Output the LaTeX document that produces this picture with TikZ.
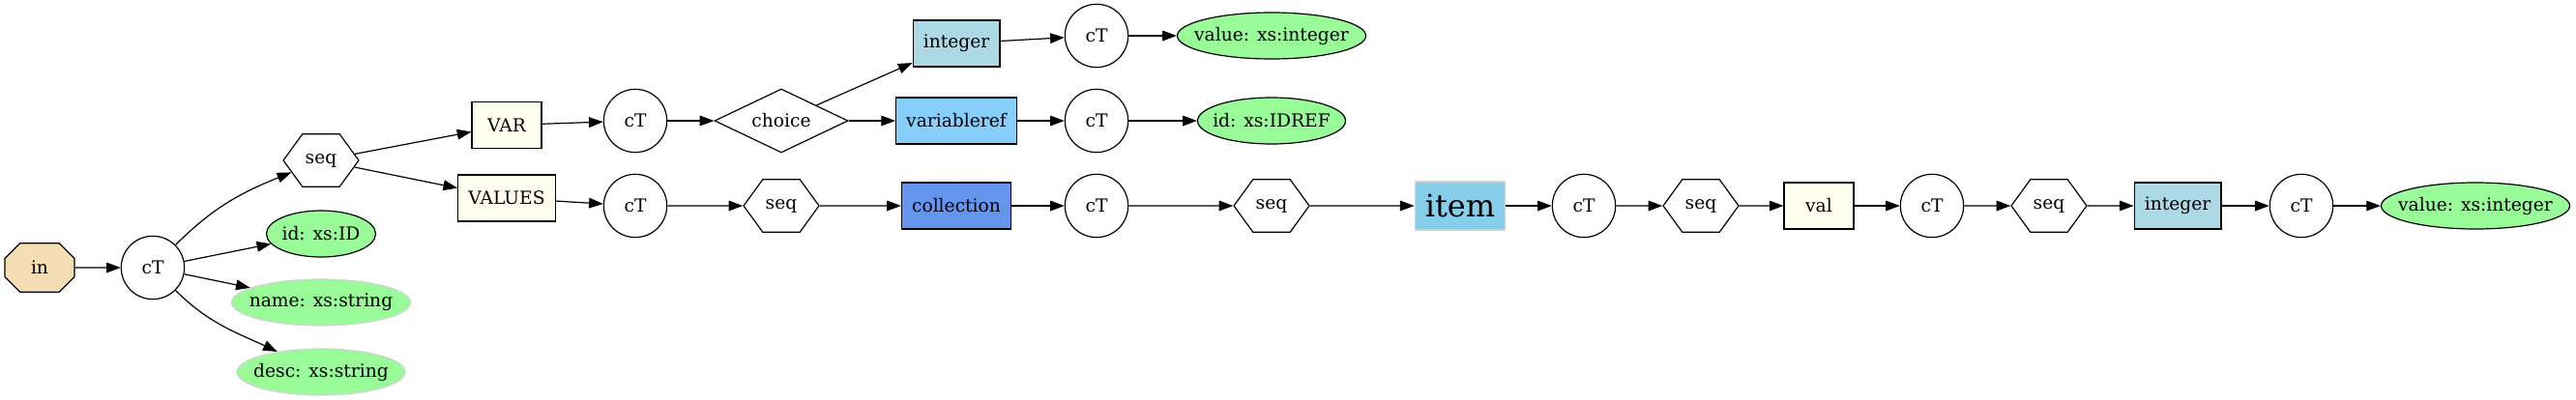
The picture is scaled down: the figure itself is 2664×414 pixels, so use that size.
\documentclass[tikz,border=0pt]{standalone}
\usepackage{fontspec}
\setmainfont{DejaVu Serif}
\usetikzlibrary{arrows.meta,shapes.geometric,shapes.misc,shapes.symbols}

\definecolor{wheat}{HTML}{F5DEB3}
\definecolor{ivory}{HTML}{FFFFF0}
\definecolor{lightblue}{HTML}{ADD8E6}
\definecolor{lightskyblue}{HTML}{87CEFA}
\definecolor{cornflower}{HTML}{6495ED}
\definecolor{skyblue}{HTML}{87CEEB}
\definecolor{palegreen}{HTML}{98FB98}
\definecolor{lightgrey}{HTML}{D3D3D3}

% label of zero width, so that an ellipse takes its size from its minimum width only
\newcommand{\flatlabel}[1]{\makebox[0pt]{#1}}

\tikzset{
	gv/.style={font=\fontsize{14}{17}\selectfont, line width=0.9pt, inner sep=0pt},
	innode/.style={gv, chamfered rectangle, chamfered rectangle xsep=16pt, chamfered rectangle ysep=11pt, draw, fill=wheat, minimum width=54pt, minimum height=38pt},
	ctnode/.style={gv, circle, draw, minimum size=49pt},
	seqnode/.style={gv, signal, signal to=east and west, signal pointer angle=108, draw, minimum width=58.5pt, minimum height=41pt},
	choicenode/.style={gv, diamond, aspect=2.1, draw, minimum width=103.5pt, minimum height=49.5pt},
	elnode/.style={gv, rectangle, draw, inner xsep=8pt, minimum width=54pt, minimum height=36pt},
	attrnode/.style={gv, ellipse, draw, fill=palegreen, minimum width=#1, minimum height=36pt},
	link/.style={-{Triangle[length=11pt,width=8pt]}, line width=0.9pt}
}

\begin{document}
\begin{tikzpicture}[x=0.75pt, y=-0.75pt]
			%%%%% START %%%%%
			\useasboundingbox (0, 0) rectangle (2664, 414);
			
			\node[innode] (in) at (41, 277) {in};
			\node[ctnode] (ct1) at (158, 277) {cT};
			
			\node[seqnode] (seq1) at (332, 166) {seq};
			\node[attrnode=84.75pt] (id) at (332, 242) {\flatlabel{id: xs:ID}};
			\node[attrnode=138.75pt, draw=lightgrey] (name) at (332, 313) {\flatlabel{name: xs:string}};
			\node[attrnode=130.5pt, draw=lightgrey] (desc) at (332, 385) {\flatlabel{desc: xs:string}};
			
			\node[elnode, fill=ivory] (var) at (524, 129.5) {VAR};
			\node[elnode, fill=ivory] (values) at (524, 205) {VALUES};
			\node[ctnode] (ct2) at (657, 125) {cT};
			\node[ctnode] (ct3) at (657, 213) {cT};
			\node[choicenode] (choice) at (808, 125) {choice};
			\node[seqnode] (seq2) at (808, 213) {seq};
			
			\node[elnode, fill=lightblue] (int1) at (989, 45) {integer};
			\node[elnode, fill=lightskyblue] (vref) at (989, 125) {variableref};
			\node[elnode, fill=cornflower] (coll) at (989, 213) {collection};
			\node[ctnode] (ct4) at (1134, 37) {cT};
			\node[ctnode] (ct5) at (1134, 125) {cT};
			\node[ctnode] (ct6) at (1134, 213) {cT};
			\node[attrnode=146.25pt] (val1) at (1315, 37) {\flatlabel{value: xs:integer}};
			\node[attrnode=114.75pt] (idref) at (1315, 125) {\flatlabel{id: xs:IDREF}};
			\node[seqnode] (seq3) at (1315, 213) {seq};
			
			\node[elnode, draw=lightgrey, fill=skyblue, font=\fontsize{24}{28}\selectfont, minimum height=37.5pt] (item) at (1510, 213) {item};
			\node[ctnode] (ct7) at (1638, 213) {cT};
			\node[seqnode] (seq4) at (1759, 213) {seq};
			\node[elnode, fill=ivory] (val) at (1881, 213) {val};
			\node[ctnode] (ct8) at (1998, 213) {cT};
			\node[seqnode] (seq5) at (2119, 213) {seq};
			\node[elnode, fill=lightblue] (int2) at (2252, 213) {integer};
			\node[ctnode] (ct9) at (2380, 213) {cT};
			\node[attrnode=146.25pt] (val2) at (2560, 213) {\flatlabel{value: xs:integer}};
			
			\draw[link] (in) -- (ct1);
			\draw[link] (ct1) to[out=45, in=202] (seq1);
			\draw[link] (ct1) -- (id);
			\draw[link] (ct1) -- (name);
			\draw[link] (ct1) to[out=-45, in=155] (desc);
			
			\draw[link] (seq1) -- (var);
			\draw[link] (seq1) -- (values);
			\draw[link] (var) -- (ct2);
			\draw[link] (values) -- (ct3);
			\draw[link] (ct2) -- (choice);
			\draw[link] (ct3) -- (seq2);
			\draw[link] (choice) -- (int1);
			\draw[link] (choice) -- (vref);
			\draw[link] (seq2) -- (coll);
			
			\draw[link] (int1) -- (ct4);
			\draw[link] (vref) -- (ct5);
			\draw[link] (coll) -- (ct6);
			\draw[link] (ct4) -- (val1);
			\draw[link] (ct5) -- (idref);
			\draw[link] (ct6) -- (seq3);
			\draw[link] (seq3) -- (item);
			
			\draw[link] (item) -- (ct7);
			\draw[link] (ct7) -- (seq4);
			\draw[link] (seq4) -- (val);
			\draw[link] (val) -- (ct8);
			\draw[link] (ct8) -- (seq5);
			\draw[link] (seq5) -- (int2);
			\draw[link] (int2) -- (ct9);
			\draw[link] (ct9) -- (val2);
			%%%%% END %%%%%
\end{tikzpicture}
\end{document}
